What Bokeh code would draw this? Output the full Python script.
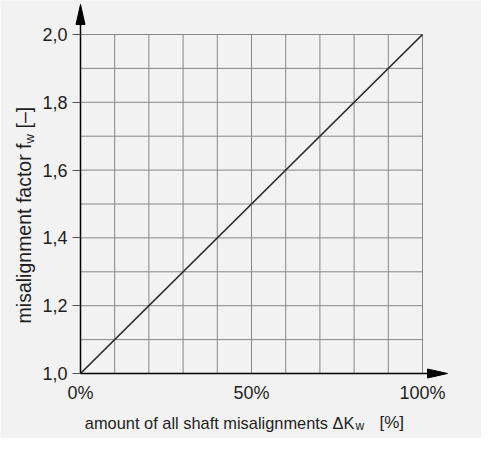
import math
from bokeh.plotting import figure
from bokeh.models import Range1d, FixedTicker, Label
from bokeh.embed import file_html
from bokeh.resources import INLINE

# ---- data ----
share = [0, 100]            # amount of all shaft misalignments [%]
factor = [1.0, 2.0]         # misalignment factor f_w
x_grid = [0, 10, 20, 30, 40, 50, 60, 70, 80, 90, 100]
y_grid = [1.0, 1.1, 1.2, 1.3, 1.4, 1.5, 1.6, 1.7, 1.8, 1.9, 2.0]
x_ticks = [0, 50, 100]
x_tick_labels = ["0%", "50%", "100%"]
y_ticks = [1.0, 1.2, 1.4, 1.6, 1.8, 2.0]
y_tick_labels = ["1,0", "1,2", "1,4", "1,6", "1,8", "2,0"]

FONT = "Liberation Sans"
TXT = "#1e1e1e"
BG = "#f2f2f2"

# layout (pixels)
W, H = 481, 438
PX_X = 3.42     # px per %
PX_Y = 339.0    # px per unit of factor
ORG_X, ORG_Y = 80, 373   # origin position inside the canvas (px from left / top)

x0 = x_grid[0] - ORG_X / PX_X
y0 = y_grid[0] - (H - ORG_Y) / PX_Y
x1 = x0 + W / PX_X
y1 = y0 + H / PX_Y

x_tip = x_grid[0] + 367 / PX_X
y_tip = y_grid[0] + 369 / PX_Y

p = figure(frame_width=W, frame_height=H,
           min_border_left=0, min_border_right=0, min_border_top=0, min_border_bottom=0,
           x_range=Range1d(x0, x1), y_range=Range1d(y0, y1),
           output_backend="svg", toolbar_location=None)
p.background_fill_color = BG
p.border_fill_color = BG
p.outline_line_color = None
p.xgrid.visible = False
p.ygrid.visible = False

# grid
p.segment(x0=x_grid, y0=[y_grid[0]] * len(x_grid), x1=x_grid, y1=[y_grid[-1]] * len(x_grid),
          line_color="#878787", line_width=1)
p.segment(x0=[x_grid[0]] * len(y_grid), y0=y_grid, x1=[x_grid[-1]] * len(y_grid), y1=y_grid,
          line_color="#878787", line_width=1)

# curve
p.line(share, factor, line_color="#2a2a2a", line_width=1.7)

# axes, placed at the origin inside the frame
for ax in (p.xaxis[0], p.yaxis[0]):
    ax.axis_line_color = "#000000"
    ax.axis_line_width = 1.5
    ax.minor_tick_line_color = None
    ax.major_label_text_font = FONT
    ax.major_label_text_font_size = "18px"
    ax.major_label_text_color = TXT

p.xaxis.fixed_location = y_grid[0]
p.xaxis.bounds = (x_grid[0], x_tip - 5 / PX_X)
p.xaxis.ticker = FixedTicker(ticks=x_ticks)
p.xaxis.major_label_overrides = dict(zip(x_ticks, x_tick_labels))
p.xaxis.major_tick_out = 0
p.xaxis.major_tick_in = 0
p.xaxis.major_label_standoff = 9

p.yaxis.fixed_location = x_grid[0]
p.yaxis.bounds = (y_grid[0], y_tip - 5 / PX_Y)
p.yaxis.ticker = FixedTicker(ticks=y_ticks)
p.yaxis.major_label_overrides = dict(zip(y_ticks, y_tick_labels))
p.yaxis.major_tick_out = 8
p.yaxis.major_tick_in = 0
p.yaxis.major_tick_line_color = "#555555"
p.yaxis.major_label_standoff = 5

# arrow heads at the axis ends
hl, hw = 20, 4.5
p.patch([x_tip, x_tip - hl / PX_X, x_tip - hl / PX_X],
        [y_grid[0], y_grid[0] + hw / PX_Y, y_grid[0] - hw / PX_Y], color="#000000")
p.patch([x_grid[0], x_grid[0] - hw / PX_X, x_grid[0] + hw / PX_X],
        [y_tip, y_tip - hl / PX_Y, y_tip - hl / PX_Y], color="#000000")


def lab(text, dx, dy, size, align, baseline, angle=0):
    p.add_layout(Label(x=x_grid[0], y=y_grid[0], x_offset=dx, y_offset=dy, text=text,
                       text_font=FONT, text_font_size=size, text_color=TXT,
                       text_align=align, text_baseline=baseline, angle=angle))


# x axis title
lab("amount of all shaft misalignments \u0394K", 274, -49, "16.4px", "right", "alphabetic")
lab("w", 275, -52, "12px", "left", "alphabetic")
lab("[%]", 299, -49, "17px", "left", "alphabetic")

# y axis title (rotated)
lab("misalignment factor f", -57, 230, "19.5px", "right", "middle", math.pi / 2)
lab("w", -51, 230, "13px", "left", "middle", math.pi / 2)
lab("[\u2013]", -57, 245, "19.5px", "left", "middle", math.pi / 2)

open("out.html", "w").write(file_html(p, INLINE))
